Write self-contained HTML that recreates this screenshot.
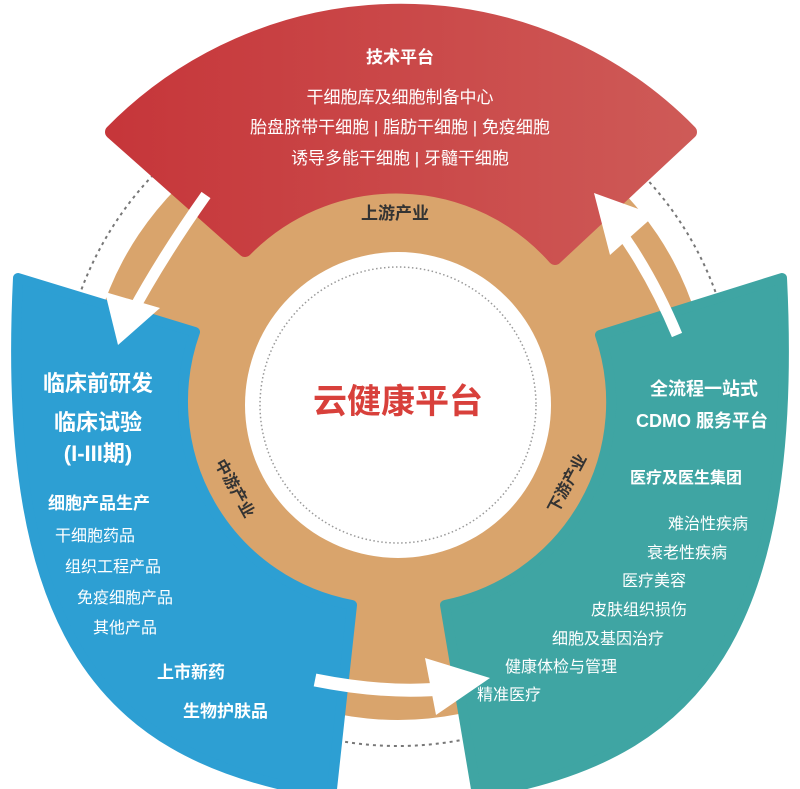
<!DOCTYPE html>
<html><head><meta charset="utf-8"><style>
html,body{margin:0;padding:0;background:#fff;}
svg{display:block}
text{font-family:"Liberation Sans","Noto Sans CJK SC",sans-serif;}
</style></head><body>
<svg width="800" height="789" viewBox="0 0 800 789" xmlns="http://www.w3.org/2000/svg">
<defs>
<linearGradient id="rg" x1="0" x2="1" y1="0" y2="0">
<stop offset="0" stop-color="#c6363a"/><stop offset="1" stop-color="#ce5a57"/>
</linearGradient>
</defs>
<circle cx="398" cy="408" r="338" fill="none" stroke="#777" stroke-width="2" stroke-dasharray="3,4"/>
<circle cx="398" cy="408" r="312" fill="#d9a46c"/>
<circle cx="398" cy="405" r="153" fill="#fff"/>
<circle cx="398" cy="405" r="138" fill="none" stroke="#999" stroke-width="1.5" stroke-dasharray="1.5,2.5"/>
<path d="M 112,132 A 405 405 0 0 1 690,132 L 555,258 A 212 212 0 0 0 245,250 Z" fill="url(#rg)" stroke="url(#rg)" stroke-width="14" stroke-linejoin="round"/>
<path d="M 18,278 L 195,332 A 207 207 0 0 0 352,605 L 332,789 L 300,789 C 110,750 0,640 18,278 Z" fill="#2d9fd3" stroke="#2d9fd3" stroke-width="10" stroke-linejoin="round"/>
<path d="M 782,278 L 600,335 A 207 207 0 0 1 445,605 L 476,789 L 505,789 C 690,750 800,640 782,278 Z" fill="#3fa5a3" stroke="#3fa5a3" stroke-width="10" stroke-linejoin="round"/>
<!-- arrows -->
<path d="M 206,195 Q 160,260 128,320" fill="none" stroke="#fff" stroke-width="11"/>
<polygon points="105,292 160,308 118,345" fill="#fff"/>
<path d="M 677,335 Q 650,270 612,220" fill="none" stroke="#fff" stroke-width="11"/>
<polygon points="594,193 655,215 610,255" fill="#fff"/>
<path d="M 315,680 Q 390,695 450,688" fill="none" stroke="#fff" stroke-width="13"/>
<polygon points="425,658 490,678 436,715" fill="#fff"/>
<!-- red text -->
<g fill="#fff" text-anchor="middle">
<text x="400" y="63" font-size="17" font-weight="bold">技术平台</text>
<text x="400" y="103" font-size="17">干细胞库及细胞制备中心</text>
<text x="400" y="133" font-size="17">胎盘脐带干细胞 | 脂肪干细胞 | 免疫细胞</text>
<text x="400" y="164" font-size="17">诱导多能干细胞 | 牙髓干细胞</text>
</g>
<text x="395" y="219" font-size="17" font-weight="bold" fill="#333" text-anchor="middle">上游产业</text>
<text x="398" y="413" font-size="34" font-weight="bold" fill="#d8403b" text-anchor="middle">云健康平台</text>
<text transform="translate(230,491) rotate(61)" font-size="16" font-weight="bold" fill="#333" text-anchor="middle">中游产业</text>
<text transform="translate(572,486) rotate(-62)" font-size="16" font-weight="bold" fill="#333" text-anchor="middle">下游产业</text>
<!-- left text -->
<g fill="#fff">
<text x="98" y="391" font-size="22" font-weight="bold" text-anchor="middle">临床前研发</text>
<text x="98" y="430" font-size="22" font-weight="bold" text-anchor="middle">临床试验</text>
<text x="98" y="461" font-size="22" font-weight="bold" text-anchor="middle">(I-III期)</text>
<text x="48" y="509" font-size="17" font-weight="bold">细胞产品生产</text>
<text x="55" y="541" font-size="16">干细胞药品</text>
<text x="65" y="572" font-size="16">组织工程产品</text>
<text x="77" y="603" font-size="16">免疫细胞产品</text>
<text x="93" y="633" font-size="16">其他产品</text>
<text x="157" y="678" font-size="17" font-weight="bold">上市新药</text>
<text x="183" y="717" font-size="17" font-weight="bold">生物护肤品</text>
</g>
<!-- right text -->
<g fill="#fff">
<text x="650" y="395" font-size="18" font-weight="bold">全流程一站式</text>
<text x="636" y="427" font-size="18" font-weight="bold">CDMO 服务平台</text>
<text x="630" y="483" font-size="16" font-weight="bold">医疗及医生集团</text>
<text x="668" y="529" font-size="16">难治性疾病</text>
<text x="647" y="558" font-size="16">衰老性疾病</text>
<text x="622" y="586" font-size="16">医疗美容</text>
<text x="591" y="615" font-size="16">皮肤组织损伤</text>
<text x="552" y="644" font-size="16">细胞及基因治疗</text>
<text x="505" y="672" font-size="16">健康体检与管理</text>
<text x="477" y="700" font-size="16">精准医疗</text>
</g>
</svg>
</body></html>
